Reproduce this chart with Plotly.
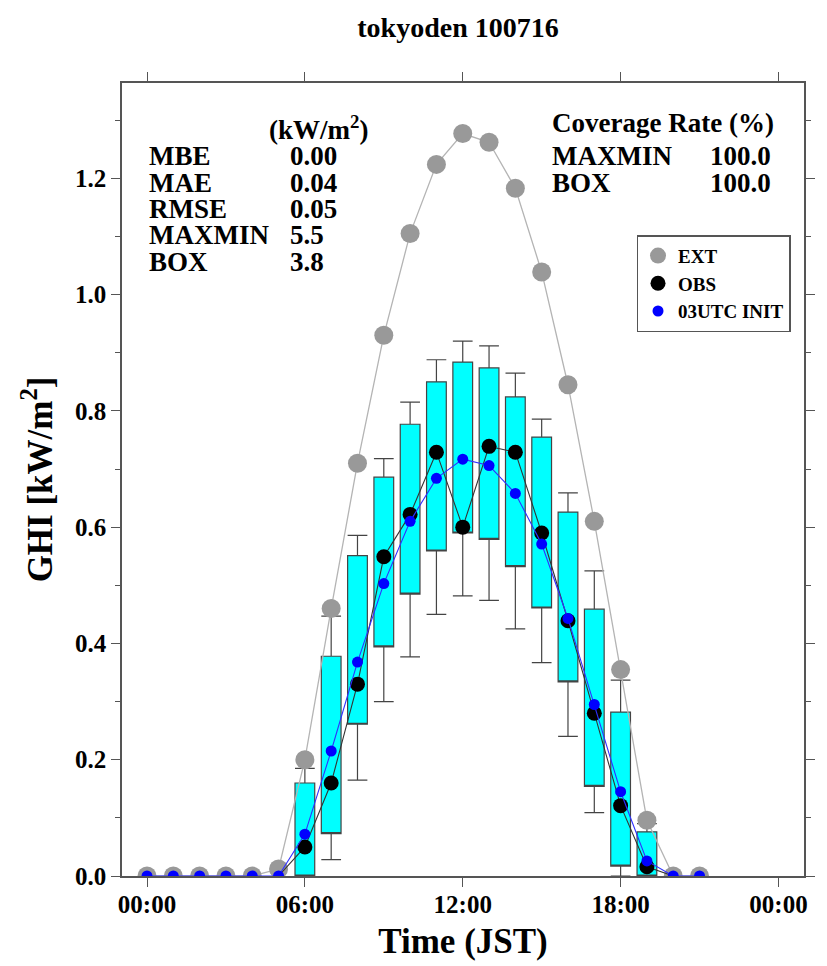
import plotly.graph_objects as go

# ---------------- data ----------------
hours_all = list(range(0, 22))
ext_vals = [0, 0, 0, 0, 0, 0.012, 0.20, 0.46, 0.71, 0.93, 1.105, 1.224, 1.277,
            1.262, 1.183, 1.039, 0.845, 0.61, 0.355, 0.096, 0, 0]
init_vals = [0, 0, 0, 0, 0, 0, 0.072, 0.215, 0.368, 0.503, 0.61, 0.684, 0.717,
             0.706, 0.658, 0.571, 0.443, 0.295, 0.145, 0.026, 0, 0]

obs_hours = list(range(5, 21))
obs_vals = [0, 0.05, 0.16, 0.33, 0.549, 0.622, 0.729, 0.60, 0.739, 0.729,
            0.59, 0.439, 0.28, 0.121, 0.016, 0]

box_hours = list(range(6, 20))
box_q1 = [0, 0.073, 0.261, 0.394, 0.485, 0.559, 0.59, 0.579, 0.532, 0.461,
          0.334, 0.154, 0.017, 0]
box_q3 = [0.16, 0.378, 0.551, 0.686, 0.777, 0.85, 0.884, 0.874, 0.824, 0.755,
          0.626, 0.459, 0.282, 0.076]
box_upper = [0.185, 0.447, 0.586, 0.718, 0.815, 0.888, 0.92, 0.912, 0.865,
             0.786, 0.659, 0.525, 0.337, 0.09]
box_lower = [0, 0.028, 0.165, 0.30, 0.377, 0.45, 0.482, 0.474, 0.425, 0.367,
             0.24, 0.109, 0.0, 0]

xtick_vals = [0, 6, 12, 18, 24]
xtick_text = ["00:00", "06:00", "12:00", "18:00", "00:00"]
ytick_vals = [0, 0.2, 0.4, 0.6, 0.8, 1.0, 1.2]
ytick_text = ["0.0", "0.2", "0.4", "0.6", "0.8", "1.0", "1.2"]

stat_names = ["MBE", "MAE", "RMSE", "MAXMIN", "BOX"]
stat_values = ["0.00", "0.04", "0.05", "5.5", "3.8"]
cov_names = ["MAXMIN", "BOX"]
cov_values = ["100.0", "100.0"]

FONT = "Liberation Serif"
AX = "#555555"

fig = go.Figure()

fig.add_trace(go.Box(
    x=box_hours, q1=box_q1, q3=box_q3, median=box_q1,
    lowerfence=box_lower, upperfence=box_upper,
    width=0.75, whiskerwidth=1, fillcolor="#00FFFF",
    line=dict(color="#444444", width=1.2), boxpoints=False,
    showlegend=False, hoverinfo="skip"))

fig.add_trace(go.Scatter(x=hours_all, y=ext_vals, mode="lines",
                         line=dict(color="#b4b4b4", width=1.3),
                         showlegend=False, hoverinfo="skip"))
fig.add_trace(go.Scatter(x=hours_all, y=ext_vals, mode="markers", name="<b>EXT</b>",
                         marker=dict(color="#999999", size=19)))
fig.add_trace(go.Scatter(x=obs_hours, y=obs_vals, mode="lines",
                         line=dict(color="#333333", width=1.1),
                         showlegend=False, hoverinfo="skip"))
fig.add_trace(go.Scatter(x=obs_hours[1:-1], y=obs_vals[1:-1], mode="markers",
                         name="<b>OBS</b>", marker=dict(color="black", size=15)))
fig.add_trace(go.Scatter(x=hours_all, y=init_vals, mode="lines",
                         line=dict(color="#3030ff", width=1.1),
                         showlegend=False, hoverinfo="skip"))
fig.add_trace(go.Scatter(x=hours_all, y=init_vals, mode="markers",
                         name="<b>03UTC INIT</b>",
                         marker=dict(color="#0000ff", size=11)))

# plot-area geometry in pixels for annotation placement
L, R, T, B = 121.7, 812.7, 82.7, 876.0


def px(xp):
    return (xp - L) / (R - L)


def py(yp):
    return (B - yp) / (B - T)


ann = []
bold = dict(family=FONT, size=27, color="black")
ann.append(dict(text="<b>(kW/m<sup>2</sup>)</b>", x=px(269), y=py(128), xanchor="left",
                yanchor="middle", showarrow=False, xref="paper", yref="paper", font=bold))
row_y = [156, 183, 209, 235, 262]
for n, v, yy in zip(stat_names, stat_values, row_y):
    ann.append(dict(text=f"<b>{n}</b>", x=px(147), y=py(yy), xanchor="left",
                    yanchor="middle", showarrow=False, xref="paper", yref="paper", font=bold))
    ann.append(dict(text=f"<b>{v}</b>", x=px(290), y=py(yy), xanchor="left",
                    yanchor="middle", showarrow=False, xref="paper", yref="paper", font=bold))
ann.append(dict(text="<b>Coverage Rate (%)</b>", x=px(555), y=py(123), xanchor="left",
                yanchor="middle", showarrow=False, xref="paper", yref="paper", font=bold))
for n, v, yy in zip(cov_names, cov_values, [156, 183]):
    ann.append(dict(text=f"<b>{n}</b>", x=px(555), y=py(yy), xanchor="left",
                    yanchor="middle", showarrow=False, xref="paper", yref="paper", font=bold))
    ann.append(dict(text=f"<b>{v}</b>", x=px(781), y=py(yy), xanchor="right",
                    yanchor="middle", showarrow=False, xref="paper", yref="paper", font=bold))

fig.update_layout(
    width=827, height=966,
    margin=dict(l=122, r=14, t=83, b=90),
    paper_bgcolor="white", plot_bgcolor="white",
    font=dict(family=FONT, color="black"),
    title=dict(text="<b>tokyoden 100716</b>", x=458 / 827, xanchor="center",
               y=1 - 27 / 966, yanchor="middle", font=dict(family=FONT, size=28)),
    annotations=ann,
    legend=dict(x=px(643), y=py(235), xanchor="left", yanchor="top",
                bordercolor=AX, borderwidth=1.5, bgcolor="white",
                font=dict(family=FONT, size=19, color="black"),
                itemsizing="trace", tracegroupgap=0, itemwidth=30),
    showlegend=True,
)

fig.update_xaxes(
    range=[-0.95, 24.97], tickvals=xtick_vals,
    ticktext=[f"<b>{t}</b>" for t in xtick_text],
    ticks="outside", ticklen=9, tickwidth=1.3, tickcolor=AX,
    ticklabelstandoff=-4,
    showline=True, linecolor=AX, linewidth=1.5, mirror="ticks",
    showgrid=False, zeroline=False,
    tickfont=dict(family=FONT, size=25, color="black"),
    title=dict(text="<b>Time (JST)</b>", font=dict(family=FONT, size=35), standoff=12),
)
fig.update_yaxes(
    range=[0, 1.364], tickvals=ytick_vals,
    ticktext=[f"<b>{t}</b>" for t in ytick_text],
    ticks="outside", ticklen=9, tickwidth=1.3, tickcolor=AX,
    minor=dict(dtick=0.1, ticks="outside", ticklen=5, tickcolor=AX, tickwidth=1.3, showgrid=False),
    showline=True, linecolor=AX, linewidth=1.5, mirror="ticks",
    showgrid=False, zeroline=False,
    tickfont=dict(family=FONT, size=25, color="black"),
    title=dict(text="<b>GHI [kW/m<sup>2</sup>]</b>", font=dict(family=FONT, size=35), standoff=12),
)

fig.write_html("out.html")
